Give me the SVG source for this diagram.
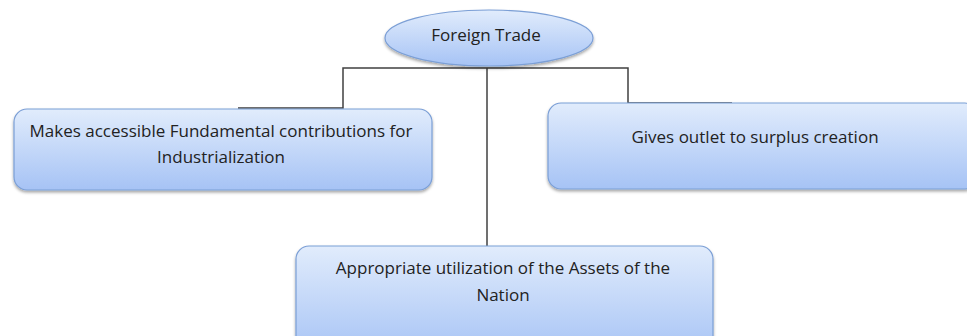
<svg xmlns="http://www.w3.org/2000/svg" width="967" height="336" viewBox="0 0 967 336">
<defs>
<linearGradient id="g" x1="0" y1="0" x2="0" y2="1">
<stop offset="0" stop-color="#e1ecfc"/>
<stop offset="1" stop-color="#a6c3f5"/>
</linearGradient>
<filter id="sh" x="-5%" y="-10%" width="110%" height="130%">
<feDropShadow dx="0" dy="2" stdDeviation="1.5" flood-color="#000" flood-opacity="0.35"/>
</filter>
</defs>
<style>
.n{fill:url(#g);stroke:#7b9fd6;stroke-width:1.2;filter:url(#sh)}
.t{font-family:"Open Sans","Liberation Sans",Arial,sans-serif;font-size:17px;fill:#222;text-anchor:middle}
.c{fill:none;stroke:#404040;stroke-width:1.5}
</style>
<rect width="967" height="336" fill="#fff"/>
<g id="connectors">
<polyline class="c" points="238,108 343,108 343,68 628,68 628,103 732,103"/>
<line class="c" x1="487" y1="68" x2="487" y2="247"/>
</g>
<g id="foreign-trade">
<ellipse class="n" cx="489" cy="38" rx="104" ry="28"/>
<text class="t" x="486" y="41">Foreign Trade</text>
</g>
<g id="industrialization">
<rect class="n" x="14" y="109" width="418" height="81" rx="13"/>
<text class="t" x="221" y="137">Makes accessible Fundamental contributions for</text>
<text class="t" x="221" y="163">Industrialization</text>
</g>
<g id="surplus">
<rect class="n" x="548" y="103" width="430" height="86" rx="13"/>
<text class="t" x="755" y="143">Gives outlet to surplus creation</text>
</g>
<g id="assets">
<rect class="n" x="296" y="246" width="417" height="110" rx="13"/>
<text class="t" x="503" y="274">Appropriate utilization of the Assets of the</text>
<text class="t" x="503" y="301">Nation</text>
</g>
</svg>
